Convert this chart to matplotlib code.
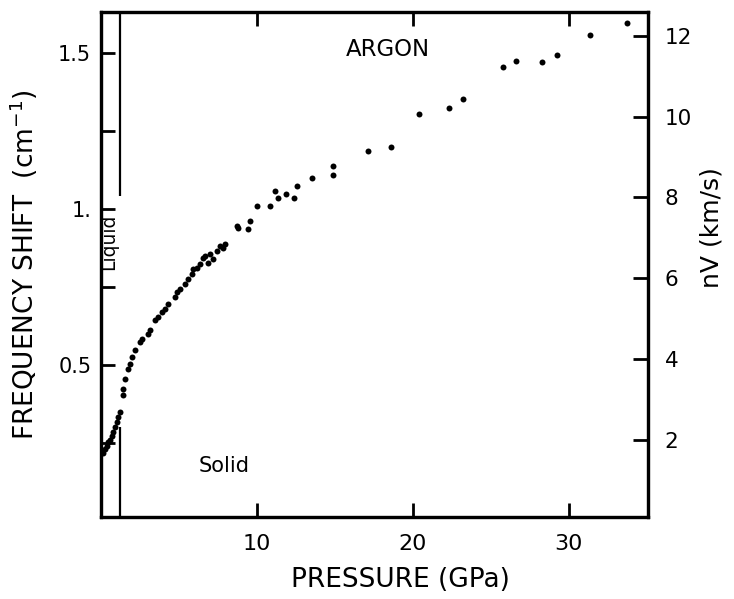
import matplotlib
matplotlib.use("Agg")
import matplotlib.pyplot as plt

# ---- data ----
pressure = [0.13, 0.25, 0.38, 0.48, 0.58, 0.68, 0.77, 0.9, 1.03, 1.12, 1.22, 1.41, 1.41, 1.54, 1.73, 1.86,
            1.99, 2.18, 2.50, 2.63, 3.01, 3.14, 3.46, 3.65, 3.91, 4.10, 4.29, 4.74, 4.87, 5.06,
            5.38, 5.58, 5.83, 5.90, 6.15, 6.35, 6.54, 6.67, 6.86, 6.99, 7.18, 7.44, 7.63, 7.82,
            7.95, 8.72, 8.78, 9.42, 9.55, 10.0, 10.83, 11.15, 11.35, 11.86, 12.37, 12.56, 13.53,
            14.87, 14.87, 17.12, 18.6, 20.4, 22.31, 23.21, 25.77, 26.60, 28.27, 29.23, 31.35, 33.78]
shift = [0.219, 0.230, 0.242, 0.252, 0.261, 0.272, 0.284, 0.300, 0.316, 0.332, 0.348, 0.403, 0.423, 0.455,
         0.487, 0.503, 0.526, 0.548, 0.574, 0.584, 0.600, 0.613, 0.645, 0.655, 0.671, 0.681,
         0.694, 0.719, 0.735, 0.745, 0.758, 0.774, 0.790, 0.806, 0.810, 0.823, 0.842, 0.848,
         0.826, 0.855, 0.839, 0.865, 0.881, 0.874, 0.887, 0.945, 0.939, 0.935, 0.961, 1.010,
         1.010, 1.058, 1.035, 1.048, 1.035, 1.074, 1.100, 1.139, 1.110, 1.187, 1.200, 1.305,
         1.323, 1.352, 1.455, 1.474, 1.471, 1.494, 1.558, 1.597]

x_ticks = [10, 20, 30]
x_tick_labels = ["10", "20", "30"]
left_ticks = [0.25, 0.5, 0.75, 1.0, 1.25, 1.5]
left_tick_labels = ["", "0.5", "", "1.", "", "1.5"]
right_ticks = [2, 4, 6, 8, 10, 12]
right_tick_labels = ["2", "4", "6", "8", "10", "12"]
melting_pressure = 1.25
NV_PER_SHIFT = 7.716  # km/s per cm^-1 (right axis scale)

plt.rcParams["font.family"] = ["DejaVu Sans"]

fig = plt.figure(figsize=(7.34, 5.99), dpi=100)
ax = fig.add_axes([101 / 734, 1 - 517 / 599, 547 / 734, 505 / 599])

ax.plot(pressure, shift, "o", color="black", ms=4.3, mec="black", mew=0)

ax.vlines(melting_pressure, 0.0, 0.30, color="black", lw=1.6)
ax.vlines(melting_pressure, 1.04, 1.7, color="black", lw=1.6)

ax.set_xlim(0, 35.1)
ax.set_ylim(0.013, 1.631)

ax.set_xticks(x_ticks)
ax.set_xticklabels(x_tick_labels)
ax.set_yticks(left_ticks)
ax.set_yticklabels(left_tick_labels)
ax.tick_params(axis="both", direction="in", length=10, width=2, labelsize=16, pad=7)
ax.tick_params(axis="y", labelsize=15)
ax.tick_params(axis="x", top=True, labeltop=False, pad=12)

for s in ax.spines.values():
    s.set_linewidth(2.3)

ax2 = ax.twinx()
ax2.set_ylim(0.013 * NV_PER_SHIFT, 1.631 * NV_PER_SHIFT)
ax2.set_yticks(right_ticks)
ax2.set_yticklabels(right_tick_labels)
ax2.tick_params(axis="y", direction="in", length=11, width=2, labelsize=15.5, pad=12)
for s in ax2.spines.values():
    s.set_linewidth(2.3)

ax.set_xlabel("PRESSURE (GPa)", fontsize=19)
ax.xaxis.set_label_coords((400 - 101) / 547, -(580 - 517) / 505)
ax.xaxis.label.set_va("center")
ax.set_ylabel("FREQUENCY SHIFT  (cm$^{-1}$)", fontsize=19)
ax.yaxis.set_label_coords(-(101 - 24) / 547, (517 - 265) / 505)
ax.yaxis.label.set_va("center")
ax2.set_ylabel("nV (km/s)", fontsize=18)
ax2.yaxis.set_label_coords((712 - 101) / 547, (517 - 228) / 505)
ax2.yaxis.label.set_va("center")

ax.text(18.4, 1.51, "ARGON", fontsize=16.5, ha="center", va="center")
ax.text(7.9, 0.175, "Solid", fontsize=15, ha="center", va="center")
ax.text(0.5, 0.895, "Liquid", fontsize=13.5, ha="center", va="center", rotation=90)

fig.savefig("out.png", dpi=100)
